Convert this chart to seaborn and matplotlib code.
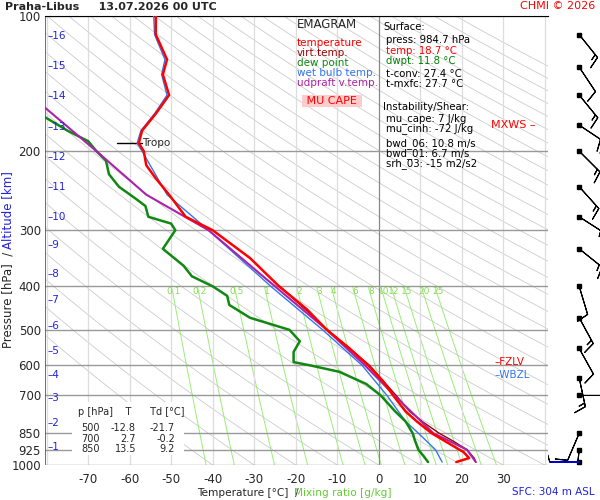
import numpy as np
import matplotlib
matplotlib.use("Agg")
import matplotlib.pyplot as plt
import seaborn as sns
from matplotlib import transforms
from matplotlib.patches import Rectangle

sns.set_style("white")
plt.rcParams['font.family'] = ['DejaVu Sans']

# ---- data ----
p_t = [985, 965, 935, 925, 885, 850, 800, 760, 700, 650, 600, 550, 500, 450, 400, 346, 300, 280, 250, 230, 215, 200, 192, 180, 165, 150, 135, 125, 110, 100]
t_t = [18.7, 21.8, 20.4, 19.5, 16, 12.8, 9.2, 6.5, 3.5, 1, -2.5, -7, -12.5, -17.3, -24, -31, -40, -46.5, -50.5, -53.7, -56, -56.6, -57.8, -57, -53.7, -50.5, -52, -51, -53.7, -53.7]
p_tv = [985, 965, 925, 885, 850, 800, 760, 700, 600, 500, 400]
t_tv = [23.4, 23, 21.3, 18, 14.6, 10.5, 7.5, 4.2, -2.2, -12.3, -23.8]
p_td = [985, 960, 925, 880, 850, 800, 760, 700, 660, 620, 600, 590, 560, 530, 500, 470, 440, 420, 400, 380, 360, 330, 300, 290, 280, 265, 255, 240, 225, 210, 200, 190, 180, 168]
t_td = [11.9, 11, 9.6, 8.7, 8.2, 6.5, 4, 0.5, -3, -9.5, -16.5, -20.5, -20.5, -19, -21.5, -31, -36, -36.5, -40, -45, -47, -52, -49, -50, -55.5, -56.2, -58.6, -62.6, -65, -65.7, -68, -70, -75, -80.4]
p_tw = [985, 925, 850, 800, 700, 600, 500, 400, 300, 250, 200, 192, 180, 165, 150, 135, 125, 110, 100]
t_tw = [15.3, 13.7, 9.6, 6.5, 2, -4, -13.5, -26, -41, -51, -57, -58.2, -57.3, -54, -51, -52.3, -51.5, -54, -54.2]
p_pa = [985, 925, 870, 850, 700, 600, 500, 400, 300, 250, 200, 160]
t_pa = [23.4, 21.3, 15.5, 13.2, 3.8, -3.3, -12.5, -25, -41, -56, -68, -80.4]
km_lbl = list(range(1, 17))
km_p = [912, 806, 709, 630, 557, 490, 429, 375, 324, 280, 240, 206, 177, 151, 129, 111]
p_grid = [100, 200, 300, 400, 500, 600, 700, 850, 925, 1000]
w_lines = [0.1, 0.2, 0.5, 1, 2, 3, 4, 6, 8, 10, 12, 15, 20, 25]
w_labels = ["0.1", "0.2", "0.5", "1", "2", "3", "4", "6", "8", "10", "12", "15", "20", "25"]
barb_p = [110, 130, 150, 175, 200, 240, 280, 330, 400, 470, 550, 640, 700, 850, 925, 985]
barb_u = [-8, -6, -9, -15, -12, -9, -14, -10, -3, -6, -5, -3, -9, 3, 1, 9]
barb_v = [10, 9, 11, 10, 12, 10, 9, 8, 10, 11, 9, 14, 0, 7, 9, 0]
tbl_p = [500, 700, 850]
tbl_t = [-12.8, 2.7, 13.5]
tbl_td = [-21.7, -0.2, 9.2]

fig = plt.figure(figsize=(6, 5), dpi=100)
ax = fig.add_axes([45/600, 35/500, 503/600, 449/500])
ax.set_yscale('log')
ax.set_ylim(1000, 100)
ax.set_xlim(-80.4, 40.8)

# background lines
pp = np.logspace(2, 3, 60)
for th in range(-40, 300, 10):
    T = (th + 273.15) * (pp / 1000) ** 0.2857 - 273.15
    ax.plot(T, pp, color='#cccccc', lw=0.6, zorder=1)
pw = np.logspace(np.log10(400), 3, 30)
for w, lab in zip(w_lines, w_labels):
    e = w * pw / (622 + w)
    lt = np.log(e / 6.112)
    T = 243.5 * lt / (17.67 - lt)
    ax.plot(T, pw, color='#99ee77', lw=0.7, zorder=1)
    e4 = w * 420 / (622 + w); l4 = np.log(e4 / 6.112)
    ax.text(243.5 * l4 / (17.67 - l4), 420, lab, color='#88dd55',
            fontsize=6.5, ha='center', va='bottom')
for x in range(-80, 41, 10):
    ax.axvline(x, color='#888888' if x == 0 else '#dddddd', lw=0.9, zorder=1)
for p in p_grid:
    ax.axhline(p, color='#999999', lw=1, zorder=1)
ax.axvline(-80.4, color='#555555', lw=1.2, zorder=2)

ax.plot(t_tw, p_tw, color='#3377ee', lw=1, zorder=3)
ax.plot(t_td, p_td, color='#118811', lw=1.8, zorder=3)
ax.plot(t_tv, p_tv, color='#990000', lw=1, zorder=3)
ax.plot(t_pa, p_pa, color='#aa22aa', lw=1.5, zorder=3)
ax.plot(t_t, p_t, color='#ff0000', lw=1.8, zorder=4)

ax.set_yticks(p_grid)
ax.set_yticklabels([str(p) for p in p_grid], fontsize=8.5)
ax.yaxis.set_minor_locator(matplotlib.ticker.NullLocator())
ax.tick_params(axis='y', length=0, pad=3)
ax.set_xticks(range(-70, 31, 10))
ax.set_xticklabels([str(x) for x in range(-70, 31, 10)], fontsize=8.5)
ax.tick_params(axis='x', length=0, pad=6)
for s in ax.spines.values():
    s.set_visible(False)
ax.spines['top'].set_visible(True)
ax.spines['top'].set_color('black')

tr = transforms.blended_transform_factory(ax.transAxes, ax.transData)
for k, p in zip(km_lbl, km_p):
    ax.text(0.004, p, "–" + str(k), color='#2222dd', fontsize=7.5, va='center', transform=tr)

ax.plot([-63, -57], [192, 192], color='black', lw=1)
ax.text(-57, 192, "Tropo", fontsize=7.5, va='center')
ax.text(28, 590, "–FZLV", color='red', fontsize=7.5, va='center')
ax.text(28, 630, "–WBZL", color='#3377ee', fontsize=7.5, va='center')
ax.text(27, 175, "MXWS –", color='red', fontsize=8, va='center')

# legend box
fig.text(297/600, 1-25/500, "EMAGRAM", fontsize=8.5, va='center')
for i, (s, c) in enumerate([("temperature", 'red'), ("virt.temp.", '#990000'), ("dew point", '#118811'),
                            ("wet bulb temp.", '#3377ee'), ("udpraft v.temp.", '#aa22aa')]):
    fig.text(297/600, 1-(43+10*i)/500, s, color=c, fontsize=7.5, va='center')
fig.text(303/600, 1-101/500, " MU CAPE ", color='red', fontsize=8, va='center',
         bbox=dict(fc='#ffcccc', ec='none', pad=1))
info = [("Surface:", 'black', 383, 27), ("press: 984.7 hPa", 'black', 386, 40), ("temp: 18.7 °C", 'red', 386, 51),
        ("dwpt: 11.8 °C", 'green', 386, 61), ("t-conv: 27.4 °C", 'black', 386, 74), ("t-mxfc: 27.7 °C", 'black', 386, 84),
        ("Instability/Shear:", 'black', 383, 107), ("mu_cape: 7 J/kg", 'black', 386, 119), ("mu_cinh: -72 J/kg", 'black', 386, 129),
        ("bwd_06: 10.8 m/s", 'black', 386, 144), ("bwd_01: 6.7 m/s", 'black', 386, 154), ("srh_03: -15 m2/s2", 'black', 386, 164)]
for s, c, x, y in info:
    fig.text(x/600, 1-y/500, s, color=c, fontsize=7.3, va='center')

# table with white background
fig.patches.append(Rectangle((72/600, 1-455/500), 112/600, 53/500, transform=fig.transFigure,
                             facecolor='white', edgecolor='none', zorder=1))
fig.text(78/600, 1-412/500, "p [hPa]    T      Td [°C]", fontsize=7, va='center', zorder=2)
for i, (p, t, td) in enumerate(zip(tbl_p, tbl_t, tbl_td)):
    y = 1-(428+10.5*i)/500
    fig.text(100/600, y, str(p), fontsize=7, ha='right', va='center', zorder=2)
    fig.text(136/600, y, f"{t}", fontsize=7, ha='right', va='center', zorder=2)
    fig.text(175/600, y, f"{td}", fontsize=7, ha='right', va='center', zorder=2)

# titles
fig.text(5/600, 1-7/500, "Praha-Libus     13.07.2026 00 UTC", fontsize=8, fontweight='bold', va='center')
fig.text(595/600, 1-6/500, "CHMI © 2026", color='red', fontsize=8, ha='right', va='center')
fig.text(595/600, 1-492/500, "SFC: 304 m ASL", color='#2222dd', fontsize=7.5, ha='right', va='center')
fig.text(197/600, 1-493/500, "Temperature [°C]  /", fontsize=7.6, ha='left', va='center')
fig.text(294/600, 1-493/500, "Mixing ratio [g/kg]", color='#66cc33', fontsize=7.6, ha='left', va='center')
fig.text(8/600, 1-300/500, "Pressure [hPa]  /", fontsize=8.5, rotation=90, ha='center', va='center')
fig.text(8/600, 1-210/500, "Altitude [km]", color='#2222dd', fontsize=8.5, rotation=90, ha='center', va='center')

# wind barbs
bx = fig.add_axes([548/600, 35/500, 52/600, 449/500])
bx.set_yscale('log'); bx.set_ylim(1000, 100); bx.set_xlim(-1, 1); bx.axis('off')
bx.plot([0.2] * len(barb_p), barb_p, 'ks', ms=2.5)
bx.barbs([0.2] * len(barb_p), barb_p, barb_u, barb_v, length=6.5, lw=0.8, pivot='tip')
bx.plot([-0.9, 0.2], [985, 985], color='blue', lw=1.2)

fig.savefig("out.png", dpi=100)
